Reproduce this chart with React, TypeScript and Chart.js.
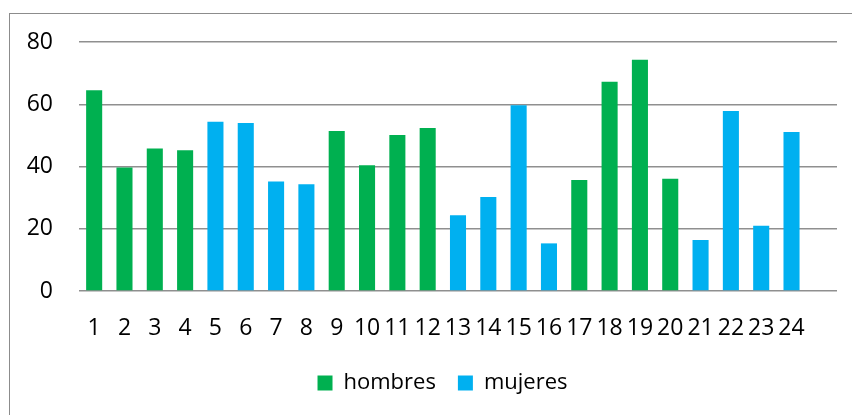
import React, { useEffect, useRef } from "react";
import { Chart, registerables } from "chart.js";

Chart.register(...registerables);

const categories = ["1", "2", "3", "4", "5", "6", "7", "8", "9", "10", "11", "12", "13", "14", "15", "16", "17", "18", "19", "20", "21", "22", "23", "24", ""];
const hombres = [64.5, 39.7, 45.8, 45.2, null, null, null, null, 51.4, 40.4, 50.1, 52.4, null, null, null, null, 35.7, 67.2, 74.3, 36.1, null, null, null, null];
const mujeres = [null, null, null, null, 54.4, 54.0, 35.2, 34.3, null, null, null, null, 24.3, 30.2, 59.7, 15.3, null, null, null, null, 16.4, 57.8, 21.0, 51.1];
const yTicks = [0, 20, 40, 60, 80];

const FONT = "'Open Sans', 'Noto Sans', sans-serif";

const framePlugin = {
  id: "frame",
  beforeDraw(chart: any) {
    const ctx = chart.ctx;
    ctx.save();
    ctx.fillStyle = "#ffffff";
    ctx.fillRect(0, 0, chart.width, chart.height);
    ctx.strokeStyle = "#8c8c8c";
    ctx.lineWidth = 1;
    ctx.strokeRect(9.5, 13.5, chart.width + 20, chart.height + 20);
    ctx.restore();
  },
  afterLayout(chart: any) {
    // centre the legend under the plotting region like the original
    if (chart.legend) {
      chart.legend.left += 48;
    }
  },
};

export default function App() {
  const ref = useRef<HTMLCanvasElement | null>(null);
  useEffect(() => {
    if (!ref.current) return;
    const chart = new Chart(ref.current, {
      type: "bar",
      data: {
        labels: categories,
        datasets: [
          { label: "hombres", data: hombres, backgroundColor: "#00b050", barPercentage: 0.53, categoryPercentage: 1 },
          { label: "mujeres", data: mujeres, backgroundColor: "#00b0f0", barPercentage: 0.53, categoryPercentage: 1 },
        ],
      },
      options: {
        responsive: false,
        animation: false,
        layout: { padding: { left: 0, right: 15, top: 42, bottom: 11 } },
        plugins: {
          tooltip: { enabled: false },
          legend: {
            position: "bottom",
            labels: {
              boxWidth: 15,
              boxHeight: 15,
              padding: 22,
              color: "#000000",
              font: { family: FONT, size: 22 },
            },
          },
        },
        scales: {
          x: {
            stacked: true,
            grid: { display: false, drawTicks: false },
            border: { display: false },
            ticks: {
              autoSkip: false,
              maxRotation: 0,
              padding: 24,
              color: "#000000",
              font: { family: FONT, size: 23 },
            },
            afterFit: (scale: any) => {
              scale.height = 59;
            },
          },
          y: {
            stacked: true,
            min: 0,
            max: 80,
            afterBuildTicks: (scale: any) => {
              scale.ticks = yTicks.map((v) => ({ value: v }));
            },
            grid: { color: "#8f8f8f", lineWidth: 1.5, drawTicks: false },
            border: { display: false },
            ticks: {
              padding: 26,
              color: "#000000",
              font: { family: FONT, size: 23 },
            },
            afterFit: (scale: any) => {
              scale.width = 79;
            },
          },
        },
      },
      plugins: [framePlugin],
    });
    return () => chart.destroy();
  }, []);
  return (
    <div style={{ position: "absolute", left: 0, top: 0, width: 852, height: 415 }}>
      <canvas ref={ref} width={852} height={415} />
    </div>
  );
}
